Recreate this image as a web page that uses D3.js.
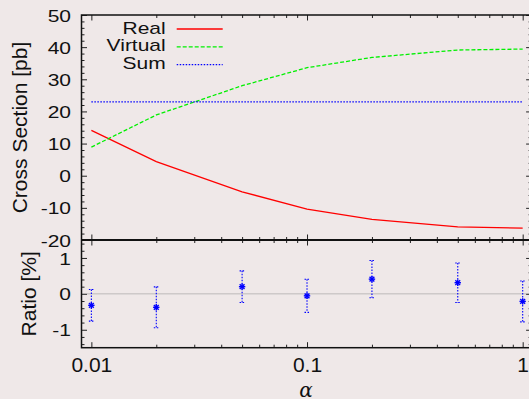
<!DOCTYPE html>
<html>
<head>
<meta charset="utf-8">
<script src="https://cdn.jsdelivr.net/npm/d3@7"></script>
<style>
  html, body { margin: 0; padding: 0; background: #efe8e8; }
  svg { display: block; }
  text { font-family: "Liberation Sans", Arial, sans-serif; fill: #111; }
</style>
</head>
<body>
<div id="chart"></div>
<script>
// values
const alpha = [0.01, 0.02, 0.05, 0.1, 0.2, 0.5, 1];
const real = [14.1, 4.4, -5.0, -10.4, -13.6, -15.9, -16.3];
const virtual = [8.9, 18.9, 28.0, 33.6, 36.8, 39.1, 39.4];
const sum = [23.0, 23.0, 23.0, 23.0, 23.0, 23.0, 23.0];
const ratio = [-0.32, -0.375, 0.2, -0.055, 0.41, 0.31, -0.21];
const ratioErr = [0.44, 0.57, 0.44, 0.46, 0.52, 0.55, 0.57];

const xMajor = [0.01, 0.1, 1];
const xLabels = ["0.01", "0.1", "1"];
const yTopTicks = [-20, -10, 0, 10, 20, 30, 40, 50];
const yBotTicks = [-1, 0, 1];

const width = 529, height = 399;
const plotL = 81.5, plotR = 531.6, plotT = 15, plotM = 240, plotB = 347.7;

const svg = d3.select('#chart').append('svg')
    .attr('width', width)
    .attr('height', height);

svg.append('rect').attr('width', width).attr('height', height).attr('fill', '#efe8e8');

const x = d3.scaleLog().domain([0.009, 1.1]).range([plotL, plotR]);
const yTop = d3.scaleLinear().domain([-20, 50]).range([plotM, plotT]);
const yBot = d3.scaleLinear().domain([-1.5, 1.5]).range([plotB, plotM]);

// minor ticks for the log axis: 2..9 in each decade
const xMinor = [];
[0.01, 0.1].forEach(d => { for (let k = 2; k <= 9; k++) xMinor.push(d * k); });

const fontSize = 21;

function tickAxis(axisFn, scale, values, size, pos, fmt) {
    const g = svg.append('g')
        .attr('transform', pos)
        .call(axisFn(scale).tickValues(values).tickSizeInner(size).tickSizeOuter(0)
            .tickPadding(10).tickFormat(fmt || ''));
    g.select('.domain').remove();
    g.selectAll('line').attr('stroke', '#222').attr('stroke-width', 1);
    return g;
}

// x ticks on all horizontal borders, pointing inward
tickAxis(d3.axisTop, x, xMajor, -5.5, `translate(0,${plotT})`);
tickAxis(d3.axisTop, x, xMinor, -3, `translate(0,${plotT})`);
tickAxis(d3.axisBottom, x, xMajor, -5.5, `translate(0,${plotM})`);
tickAxis(d3.axisBottom, x, xMinor, -3, `translate(0,${plotM})`);
tickAxis(d3.axisTop, x, xMajor, -5.5, `translate(0,${plotM})`);
tickAxis(d3.axisTop, x, xMinor, -3, `translate(0,${plotM})`);
tickAxis(d3.axisBottom, x, xMinor, -3, `translate(0,${plotB})`);
const xAx = tickAxis(d3.axisBottom, x, xMajor, -5.5, `translate(0,${plotB})`, (d, i) => xLabels[i]);
xAx.selectAll('text')
    .attr('y', 24)
    .attr('dy', 0)
    .style('font-size', fontSize + 'px')
    .style('font-family', '"Liberation Sans", Arial, sans-serif')
    .attr('fill', '#111');

// y ticks, upper panel
const yTopMinor = d3.range(-20, 50.1, 2).filter(v => v % 10 !== 0);
tickAxis(d3.axisLeft, yTop, yTopMinor, -3, `translate(${plotL},0)`);
tickAxis(d3.axisRight, yTop, yTopMinor, -3, `translate(${plotR},0)`);
tickAxis(d3.axisRight, yTop, yTopTicks, -5.5, `translate(${plotR},0)`);
const yAx = tickAxis(d3.axisLeft, yTop, yTopTicks, -5.5, `translate(${plotL},0)`, d => String(d));

// y ticks, lower panel
const yBotMinor = d3.range(-1.4, 1.41, 0.2).filter(v => Math.abs(v - Math.round(v)) > 0.01);
tickAxis(d3.axisLeft, yBot, yBotMinor, -3, `translate(${plotL},0)`);
tickAxis(d3.axisRight, yBot, yBotMinor, -3, `translate(${plotR},0)`);
tickAxis(d3.axisRight, yBot, yBotTicks, -5.5, `translate(${plotR},0)`);
const yAx2 = tickAxis(d3.axisLeft, yBot, yBotTicks, -5.5, `translate(${plotL},0)`, d => String(d));

[yAx, yAx2].forEach(g => g.selectAll('text')
    .attr('x', -10.5)
    .attr('dy', '0.36em')
    .attr('transform', 'scale(1,0.8)')
    .style('font-size', fontSize + 'px')
    .style('font-family', '"Liberation Sans", Arial, sans-serif')
    .attr('fill', '#111'));

// zero line in ratio panel
svg.append('line')
    .attr('x1', plotL).attr('x2', plotR)
    .attr('y1', yBot(0)).attr('y2', yBot(0))
    .attr('stroke', '#8a8a8a').attr('stroke-width', 1)
    .attr('stroke-dasharray', '1,1');

// curves
const series = [
    { name: 'Real', values: real, color: '#ff0000', dash: null },
    { name: 'Virtual', values: virtual, color: '#00f000', dash: '4,2' },
    { name: 'Sum', values: sum, color: '#0000ff', dash: '1.5,1.5' }
];

const line = d3.line().x(d => x(d[0])).y(d => yTop(d[1]));

series.forEach(s => {
    svg.append('path')
        .datum(alpha.map((a, i) => [a, s.values[i]]))
        .attr('d', line)
        .attr('fill', 'none')
        .attr('stroke', s.color)
        .attr('stroke-width', 1.3)
        .attr('stroke-dasharray', s.dash);
});

// legend
const legend = svg.append('g');
series.forEach((s, i) => {
    const by = 33.5 + i * 17.8;
    legend.append('text')
        .attr('transform', `translate(165.7,${by}) scale(1,0.8)`)
        .attr('text-anchor', 'end')
        .style('font-size', fontSize + 'px')
        .text(s.name);
    legend.append('line')
        .attr('x1', 176.7).attr('x2', 222.7)
        .attr('y1', by - 4.5).attr('y2', by - 4.5)
        .attr('stroke', s.color)
        .attr('stroke-width', 1.3)
        .attr('stroke-dasharray', s.dash);
});

// ratio points with error bars
const pts = svg.append('g');
alpha.forEach((a, i) => {
    const cx = x(a), cy = yBot(ratio[i]);
    const y1 = yBot(ratio[i] + ratioErr[i]), y2 = yBot(ratio[i] - ratioErr[i]);
    const eg = pts.append('g').attr('stroke', '#0000ff').attr('stroke-width', 1.1)
        .attr('stroke-dasharray', '1.5,1.5');
    eg.append('line').attr('x1', cx).attr('x2', cx).attr('y1', y1).attr('y2', y2);
    eg.append('line').attr('x1', cx - 2.5).attr('x2', cx + 2.5).attr('y1', y1).attr('y2', y1);
    eg.append('line').attr('x1', cx - 2.5).attr('x2', cx + 2.5).attr('y1', y2).attr('y2', y2);
    const r = 3.2;
    const mg = pts.append('g').attr('stroke', '#0000ff').attr('stroke-width', 1.4);
    mg.append('line').attr('x1', cx - r).attr('x2', cx + r).attr('y1', cy).attr('y2', cy);
    mg.append('line').attr('x1', cx).attr('x2', cx).attr('y1', cy - r).attr('y2', cy + r);
    mg.append('line').attr('x1', cx - r * 0.75).attr('x2', cx + r * 0.75).attr('y1', cy - r * 0.75).attr('y2', cy + r * 0.75);
    mg.append('line').attr('x1', cx - r * 0.75).attr('x2', cx + r * 0.75).attr('y1', cy + r * 0.75).attr('y2', cy - r * 0.75);
});

// borders
svg.append('rect')
    .attr('x', plotL).attr('y', plotT)
    .attr('width', plotR - plotL).attr('height', plotB - plotT)
    .attr('fill', 'none').attr('stroke', '#111').attr('stroke-width', 1.5);
svg.append('line')
    .attr('x1', plotL).attr('x2', plotR).attr('y1', plotM).attr('y2', plotM)
    .attr('stroke', '#111').attr('stroke-width', 2);

// axis titles
svg.append('text')
    .attr('transform', `translate(27,${(plotT + plotM) / 2}) rotate(-90)`)
    .attr('text-anchor', 'middle')
    .style('font-size', fontSize + 'px')
    .text('Cross Section [pb]');
svg.append('text')
    .attr('transform', `translate(36,${(plotM + plotB) / 2}) rotate(-90)`)
    .attr('text-anchor', 'middle')
    .style('font-size', fontSize + 'px')
    .text('Ratio [%]');
svg.append('text')
    .attr('x', 306).attr('y', 397)
    .attr('text-anchor', 'middle')
    .style('font-family', '"DejaVu Serif", "Liberation Serif", serif')
    .style('font-style', 'italic')
    .style('font-size', '20px')
    .text('α');
</script>
</body>
</html>
